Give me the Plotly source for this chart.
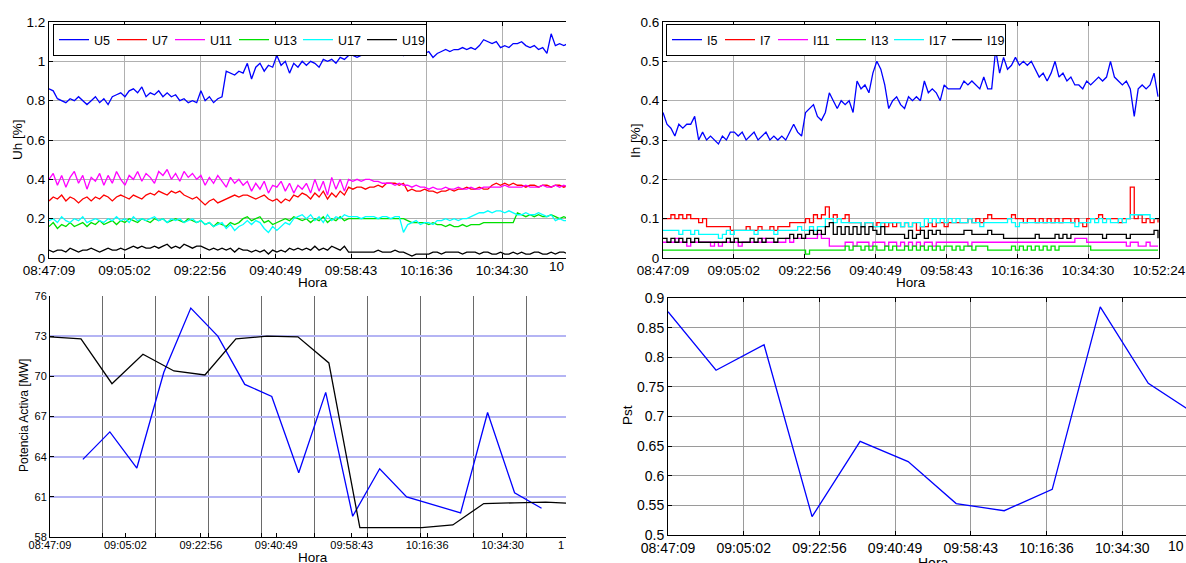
import plotly.graph_objects as go
import pandas as pd

W, H = 1186, 563
DAY = "2024-01-01 "
FONT = "Liberation Sans, Arial, Helvetica, sans-serif"

tick_labels = ["08:47:09", "09:05:02", "09:22:56", "09:40:49",
               "09:58:43", "10:16:36", "10:34:30", "10:52:24"]
t_start = "08:47:09"
t_end = "10:52:24"

# ---------------- Uh [%] (1-minute samples) ----------------
U5 = [0.86, 0.85, 0.81, 0.80, 0.79, 0.81, 0.80, 0.82, 0.80, 0.78,
      0.80, 0.82, 0.79, 0.81, 0.78, 0.82, 0.83, 0.84, 0.82, 0.85,
      0.86, 0.84, 0.87, 0.82, 0.84, 0.83, 0.85, 0.82, 0.84, 0.82,
      0.83, 0.80, 0.81, 0.79, 0.80, 0.79, 0.85, 0.80, 0.82, 0.79,
      0.81, 0.82, 0.95, 0.94, 0.93, 0.95, 0.94, 0.99, 0.91, 0.97,
      0.99, 0.95, 0.98, 0.97, 1.03, 0.98, 1.00, 0.94, 0.99, 0.97,
      1.00, 0.98, 1.00, 0.99, 0.97, 1.01, 1.00, 1.01, 0.99, 1.02,
      1.01, 1.03, 1.03, 1.02, 1.03, 1.04, 1.06, 1.08, 1.07, 1.07,
      1.06, 1.05, 1.04, 1.06, 1.03, 1.05, 1.07, 1.08, 1.05, 1.04,
      1.05, 1.02, 1.04, 1.05, 1.06, 1.05, 1.06, 1.06, 1.07, 1.06,
      1.07, 1.06, 1.08, 1.11, 1.10, 1.09, 1.10, 1.07, 1.08, 1.07,
      1.09, 1.09, 1.10, 1.08, 1.07, 1.08, 1.06, 1.07, 1.04, 1.14,
      1.08, 1.09, 1.08, 1.09]
U7 = [0.29, 0.31, 0.30, 0.32, 0.29, 0.31, 0.30, 0.28, 0.30, 0.31,
      0.29, 0.31, 0.30, 0.32, 0.31, 0.29, 0.31, 0.32, 0.31, 0.30,
      0.32, 0.31, 0.30, 0.32, 0.33, 0.32, 0.34, 0.33, 0.32, 0.34,
      0.33, 0.34, 0.32, 0.31, 0.30, 0.31, 0.29, 0.27, 0.29, 0.30,
      0.28, 0.29, 0.30, 0.31, 0.32, 0.31, 0.32, 0.32, 0.31, 0.30,
      0.31, 0.32, 0.30, 0.29, 0.30, 0.28, 0.30, 0.29, 0.32, 0.31,
      0.33, 0.32, 0.30, 0.33, 0.31, 0.34, 0.30, 0.33, 0.31, 0.34,
      0.32, 0.36, 0.35, 0.36, 0.36, 0.35, 0.36, 0.36, 0.37, 0.36,
      0.38, 0.38, 0.38, 0.37, 0.38, 0.34, 0.35, 0.34, 0.34, 0.35,
      0.34, 0.34, 0.33, 0.34, 0.34, 0.35, 0.34, 0.35, 0.35, 0.36,
      0.35, 0.35, 0.36, 0.35, 0.35, 0.37, 0.38, 0.37, 0.38, 0.37,
      0.38, 0.37, 0.37, 0.36, 0.37, 0.37, 0.36, 0.37, 0.37, 0.36,
      0.37, 0.37, 0.36, 0.37]
U11 = [0.40, 0.43, 0.37, 0.42, 0.36, 0.41, 0.44, 0.38, 0.42, 0.35,
       0.41, 0.39, 0.43, 0.37, 0.42, 0.38, 0.44, 0.40, 0.37, 0.42,
       0.40, 0.44, 0.39, 0.43, 0.41, 0.38, 0.44, 0.42, 0.45, 0.40,
       0.43, 0.39, 0.44, 0.41, 0.43, 0.40, 0.42, 0.37, 0.41, 0.38,
       0.42, 0.39, 0.36, 0.41, 0.38, 0.40, 0.37, 0.39, 0.34, 0.38,
       0.35, 0.39, 0.33, 0.37, 0.36, 0.39, 0.34, 0.38, 0.33, 0.37,
       0.35, 0.38, 0.33, 0.40, 0.34, 0.39, 0.32, 0.41, 0.35, 0.40,
       0.34, 0.40, 0.39, 0.40, 0.39, 0.40, 0.40, 0.39, 0.39, 0.38,
       0.38, 0.38, 0.37, 0.38, 0.37, 0.37, 0.36, 0.37, 0.36, 0.36,
       0.35, 0.36, 0.35, 0.35, 0.36, 0.35, 0.35, 0.36, 0.35, 0.35,
       0.36, 0.35, 0.35, 0.36, 0.36, 0.36, 0.36, 0.36, 0.37, 0.36,
       0.36, 0.36, 0.36, 0.37, 0.36, 0.36, 0.36, 0.37, 0.36, 0.36,
       0.37, 0.36, 0.37, 0.36]
U13 = [0.16, 0.18, 0.15, 0.17, 0.16, 0.18, 0.16, 0.17, 0.18, 0.16,
       0.18, 0.17, 0.19, 0.17, 0.18, 0.19, 0.17, 0.19, 0.18, 0.20,
       0.19, 0.18, 0.20, 0.19, 0.18, 0.20, 0.19, 0.20, 0.18, 0.19,
       0.20, 0.19, 0.18, 0.20, 0.19, 0.18, 0.19, 0.17, 0.18, 0.16,
       0.18, 0.17, 0.16, 0.18, 0.17, 0.18, 0.20, 0.21, 0.19, 0.20,
       0.21, 0.18, 0.19, 0.17, 0.18, 0.19, 0.20, 0.19, 0.21, 0.20,
       0.19, 0.20, 0.18, 0.20, 0.19, 0.21, 0.18, 0.20, 0.19, 0.21,
       0.19, 0.20, 0.20, 0.20, 0.20, 0.20, 0.20, 0.20, 0.20, 0.20,
       0.20, 0.20, 0.20, 0.20, 0.20, 0.19, 0.18, 0.18, 0.18, 0.18,
       0.17, 0.18, 0.17, 0.17, 0.16, 0.17, 0.16, 0.16, 0.17, 0.16,
       0.17, 0.17, 0.17, 0.18, 0.18, 0.18, 0.18, 0.18, 0.18, 0.18,
       0.18, 0.23, 0.22, 0.21, 0.22, 0.21, 0.22, 0.21, 0.21, 0.22,
       0.21, 0.20, 0.21, 0.20]
U17 = [0.19, 0.20, 0.18, 0.21, 0.19, 0.18, 0.20, 0.19, 0.21, 0.18,
       0.19, 0.20, 0.19, 0.18, 0.20, 0.19, 0.21, 0.19, 0.20, 0.18,
       0.21, 0.19, 0.20, 0.19, 0.20, 0.21, 0.19, 0.20, 0.18, 0.20,
       0.19, 0.20, 0.18, 0.19, 0.20, 0.18, 0.19, 0.17, 0.18, 0.16,
       0.17, 0.18, 0.15, 0.17, 0.14, 0.16, 0.17, 0.19, 0.17, 0.19,
       0.18, 0.15, 0.13, 0.16, 0.14, 0.16, 0.18, 0.17, 0.20, 0.21,
       0.22, 0.20, 0.22, 0.19, 0.21, 0.18, 0.22, 0.19, 0.21, 0.20,
       0.22, 0.21, 0.21, 0.21, 0.20, 0.21, 0.21, 0.21, 0.20, 0.21,
       0.21, 0.20, 0.21, 0.21, 0.13, 0.17, 0.18, 0.19, 0.17, 0.18,
       0.18, 0.17, 0.19, 0.19, 0.20, 0.19, 0.20, 0.19, 0.20, 0.20,
       0.21, 0.22, 0.23, 0.23, 0.24, 0.23, 0.24, 0.24, 0.23, 0.24,
       0.23, 0.22, 0.22, 0.23, 0.22, 0.22, 0.23, 0.22, 0.21, 0.22,
       0.19, 0.20, 0.19, 0.19]
U19 = [0.04, 0.03, 0.04, 0.04, 0.03, 0.05, 0.04, 0.03, 0.04, 0.04,
       0.05, 0.04, 0.03, 0.04, 0.05, 0.04, 0.04, 0.05, 0.04, 0.05,
       0.06, 0.05, 0.06, 0.05, 0.05, 0.06, 0.05, 0.06, 0.07, 0.05,
       0.06, 0.05, 0.07, 0.06, 0.05, 0.06, 0.06, 0.05, 0.04, 0.05,
       0.04, 0.05, 0.04, 0.05, 0.03, 0.05, 0.04, 0.04, 0.03, 0.04,
       0.03, 0.04, 0.02, 0.04, 0.03, 0.04, 0.03, 0.05, 0.04, 0.05,
       0.04, 0.05, 0.04, 0.06, 0.04, 0.05, 0.04, 0.06, 0.05, 0.04,
       0.06, 0.03, 0.03, 0.03, 0.03, 0.03, 0.03, 0.03, 0.04, 0.03,
       0.03, 0.03, 0.04, 0.03, 0.03, 0.02, 0.01, 0.02, 0.02, 0.02,
       0.02, 0.03, 0.03, 0.02, 0.03, 0.03, 0.03, 0.03, 0.02, 0.03,
       0.03, 0.03, 0.02, 0.03, 0.03, 0.02, 0.02, 0.03, 0.02, 0.02,
       0.03, 0.02, 0.03, 0.02, 0.02, 0.03, 0.03, 0.02, 0.02, 0.03,
       0.02, 0.03, 0.03, 0.02]

# ---------------- Ih [%] (1-minute samples) ----------------
I5 = [0.37, 0.34, 0.33, 0.31, 0.34, 0.33, 0.34, 0.34, 0.36, 0.30,
      0.32, 0.30, 0.31, 0.30, 0.29, 0.31, 0.30, 0.32, 0.32, 0.31,
      0.32, 0.30, 0.31, 0.32, 0.30, 0.31, 0.32, 0.30, 0.31, 0.30,
      0.31, 0.30, 0.32, 0.34, 0.32, 0.31, 0.37, 0.38, 0.39, 0.36,
      0.35, 0.37, 0.42, 0.40, 0.38, 0.40, 0.39, 0.40, 0.37, 0.45,
      0.43, 0.44, 0.42, 0.47, 0.50, 0.48, 0.44, 0.38, 0.40, 0.41,
      0.39, 0.38, 0.41, 0.40, 0.41, 0.40, 0.45, 0.42, 0.43, 0.42,
      0.40, 0.44, 0.43, 0.43, 0.43, 0.43, 0.45, 0.44, 0.45, 0.44,
      0.43, 0.46, 0.43, 0.43, 0.53, 0.47, 0.51, 0.48, 0.49, 0.51,
      0.49, 0.50, 0.49, 0.50, 0.48, 0.46, 0.47, 0.45, 0.47, 0.50,
      0.46, 0.47, 0.45, 0.46, 0.44, 0.44, 0.43, 0.45, 0.44, 0.45,
      0.46, 0.45, 0.46, 0.50, 0.46, 0.45, 0.44, 0.45, 0.43, 0.36,
      0.43, 0.44, 0.43, 0.44, 0.47, 0.41]
I7 = [0.10, 0.10, 0.11, 0.10, 0.11, 0.10, 0.11, 0.10, 0.10, 0.09,
      0.10, 0.08, 0.08, 0.08, 0.08, 0.08, 0.08, 0.07, 0.07, 0.07,
      0.07, 0.08, 0.07, 0.07, 0.08, 0.07, 0.07, 0.08, 0.07, 0.08,
      0.08, 0.08, 0.09, 0.09, 0.09, 0.09, 0.10, 0.09, 0.11, 0.10,
      0.11, 0.13, 0.10, 0.11, 0.10, 0.10, 0.11, 0.09, 0.09, 0.09,
      0.08, 0.09, 0.09, 0.08, 0.09, 0.09, 0.08, 0.09, 0.08, 0.09,
      0.08, 0.09, 0.08, 0.09, 0.07, 0.08, 0.08, 0.09, 0.08, 0.09,
      0.09, 0.08, 0.09, 0.09, 0.09, 0.09, 0.09, 0.10, 0.09, 0.10,
      0.09, 0.10, 0.11, 0.10, 0.10, 0.10, 0.10, 0.10, 0.11, 0.10,
      0.10, 0.09, 0.10, 0.10, 0.09, 0.10, 0.09, 0.10, 0.09, 0.10,
      0.09, 0.10, 0.10, 0.09, 0.10, 0.09, 0.08, 0.10, 0.10, 0.10,
      0.11, 0.10, 0.10, 0.10, 0.10, 0.09, 0.10, 0.10, 0.18, 0.10,
      0.11, 0.09, 0.10, 0.09, 0.10, 0.09]
I11 = [0.04, 0.04, 0.04, 0.05, 0.04, 0.04, 0.03, 0.04, 0.04, 0.04,
       0.04, 0.04, 0.03, 0.04, 0.03, 0.04, 0.04, 0.04, 0.04, 0.03,
       0.04, 0.04, 0.04, 0.04, 0.04, 0.05, 0.04, 0.04, 0.04, 0.04,
       0.04, 0.05, 0.04, 0.05, 0.05, 0.05, 0.05, 0.05, 0.05, 0.06,
       0.05, 0.05, 0.03, 0.03, 0.03, 0.03, 0.04, 0.04, 0.03, 0.04,
       0.04, 0.04, 0.03, 0.04, 0.04, 0.04, 0.03, 0.04, 0.04, 0.03,
       0.04, 0.03, 0.04, 0.03, 0.04, 0.03, 0.04, 0.04, 0.03, 0.04,
       0.04, 0.04, 0.04, 0.04, 0.04, 0.04, 0.04, 0.03, 0.04, 0.04,
       0.04, 0.04, 0.04, 0.04, 0.04, 0.04, 0.04, 0.04, 0.04, 0.04,
       0.04, 0.04, 0.04, 0.04, 0.04, 0.04, 0.04, 0.04, 0.04, 0.04,
       0.04, 0.04, 0.04, 0.04, 0.05, 0.05, 0.05, 0.04, 0.04, 0.04,
       0.04, 0.04, 0.04, 0.04, 0.04, 0.04, 0.04, 0.03, 0.04, 0.04,
       0.03, 0.03, 0.04, 0.03, 0.03, 0.03]
I13 = [0.02, 0.02, 0.02, 0.02, 0.02, 0.02, 0.02, 0.02, 0.02, 0.02,
       0.02, 0.02, 0.02, 0.02, 0.02, 0.02, 0.02, 0.02, 0.02, 0.02,
       0.02, 0.02, 0.02, 0.02, 0.02, 0.02, 0.02, 0.02, 0.02, 0.02,
       0.02, 0.02, 0.02, 0.02, 0.02, 0.02, 0.01, 0.02, 0.02, 0.02,
       0.02, 0.02, 0.02, 0.02, 0.02, 0.02, 0.03, 0.02, 0.03, 0.03,
       0.02, 0.03, 0.02, 0.03, 0.02, 0.02, 0.03, 0.02, 0.03, 0.02,
       0.02, 0.03, 0.02, 0.03, 0.02, 0.03, 0.02, 0.03, 0.02, 0.03,
       0.02, 0.03, 0.03, 0.02, 0.03, 0.02, 0.03, 0.03, 0.02, 0.03,
       0.03, 0.03, 0.02, 0.02, 0.02, 0.02, 0.02, 0.02, 0.03, 0.02,
       0.03, 0.02, 0.03, 0.02, 0.03, 0.02, 0.03, 0.02, 0.03, 0.02,
       0.03, 0.03, 0.03, 0.03, 0.03, 0.03, 0.03, 0.03, 0.02, 0.02,
       0.02, 0.02, 0.02, 0.02, 0.02, 0.02, 0.02, 0.02, 0.02, 0.02,
       0.02, 0.02, 0.02, 0.02, 0.02, 0.02]
I17 = [0.07, 0.07, 0.07, 0.07, 0.06, 0.07, 0.07, 0.06, 0.07, 0.06,
       0.06, 0.06, 0.06, 0.06, 0.05, 0.06, 0.07, 0.06, 0.07, 0.07,
       0.07, 0.07, 0.07, 0.06, 0.07, 0.07, 0.07, 0.07, 0.06, 0.07,
       0.07, 0.07, 0.07, 0.07, 0.08, 0.07, 0.07, 0.08, 0.07, 0.08,
       0.08, 0.10, 0.10, 0.09, 0.10, 0.09, 0.09, 0.09, 0.09, 0.09,
       0.08, 0.09, 0.09, 0.08, 0.08, 0.09, 0.09, 0.09, 0.09, 0.09,
       0.08, 0.09, 0.08, 0.09, 0.09, 0.08, 0.10, 0.09, 0.10, 0.09,
       0.10, 0.09, 0.10, 0.09, 0.10, 0.09, 0.09, 0.10, 0.09, 0.09,
       0.08, 0.09, 0.09, 0.09, 0.09, 0.09, 0.09, 0.10, 0.09, 0.08,
       0.09, 0.09, 0.09, 0.09, 0.09, 0.09, 0.09, 0.09, 0.09, 0.09,
       0.09, 0.09, 0.09, 0.09, 0.08, 0.09, 0.09, 0.09, 0.10, 0.09,
       0.10, 0.09, 0.10, 0.09, 0.09, 0.10, 0.09, 0.10, 0.11, 0.11,
       0.11, 0.11, 0.11, 0.10, 0.10, 0.10]
I19 = [0.05, 0.04, 0.05, 0.04, 0.05, 0.04, 0.05, 0.04, 0.05, 0.04,
       0.04, 0.04, 0.04, 0.04, 0.04, 0.04, 0.05, 0.04, 0.05, 0.04,
       0.04, 0.04, 0.05, 0.04, 0.05, 0.04, 0.05, 0.05, 0.04, 0.05,
       0.05, 0.05, 0.06, 0.05, 0.06, 0.05, 0.06, 0.07, 0.06, 0.07,
       0.06, 0.08, 0.09, 0.06, 0.08, 0.06, 0.08, 0.06, 0.08, 0.06,
       0.08, 0.06, 0.08, 0.07, 0.06, 0.08, 0.06, 0.06, 0.06, 0.06,
       0.06, 0.05, 0.07, 0.05, 0.06, 0.07, 0.05, 0.07, 0.06, 0.07,
       0.06, 0.06, 0.06, 0.06, 0.06, 0.06, 0.07, 0.07, 0.06, 0.06,
       0.06, 0.06, 0.07, 0.06, 0.06, 0.06, 0.05, 0.05, 0.05, 0.05,
       0.05, 0.05, 0.05, 0.05, 0.06, 0.05, 0.05, 0.05, 0.05, 0.06,
       0.05, 0.06, 0.05, 0.06, 0.06, 0.06, 0.06, 0.06, 0.06, 0.06,
       0.06, 0.05, 0.06, 0.06, 0.06, 0.06, 0.06, 0.05, 0.06, 0.06,
       0.06, 0.06, 0.06, 0.06, 0.07, 0.05]

# ---------------- Potencia Activa [MW] ----------------
P_blue_t = ["08:54:57", "09:01:21", "09:07:45", "09:14:09", "09:20:33", "09:26:57",
            "09:33:21", "09:39:45", "09:46:09", "09:52:33", "09:58:57", "10:05:21",
            "10:11:45", "10:24:33", "10:30:57", "10:37:21", "10:43:45"]
P_blue = [63.8, 65.85, 63.15, 70.3, 75.1, 73.0, 69.4, 68.5, 62.8, 68.8, 59.55,
          63.1, 61.0, 59.8, 67.3, 61.3, 60.15]
P_black_t = ["08:47:09", "08:54:30", "09:01:51", "09:09:12", "09:16:33", "09:23:54",
             "09:31:15", "09:38:36", "09:45:57", "09:53:18", "10:00:39", "10:08:00",
             "10:15:21", "10:22:42", "10:30:03", "10:37:24", "10:44:45", "10:52:06"]
P_black = [72.95, 72.8, 69.45, 71.65, 70.4, 70.1, 72.8, 73.0, 72.95, 71.0,
           58.7, 58.7, 58.7, 58.9, 60.5, 60.55, 60.6, 60.5]
P_grid_t = ["08:59:43", "09:12:16", "09:24:50", "09:37:23", "09:49:57",
            "10:02:31", "10:15:04", "10:27:38", "10:40:11"]

# ---------------- Pst ----------------
Pst_t = ["08:47:09", "08:58:30", "09:09:51", "09:21:12", "09:32:33", "09:43:54",
         "09:55:15", "10:06:36", "10:17:57", "10:29:18", "10:40:39", "10:52:00"]
Pst = [0.877, 0.778, 0.821, 0.531, 0.658, 0.624, 0.553, 0.541, 0.577, 0.885, 0.756, 0.703]


def d(t):
    return DAY + t


def dl(ts):
    return [DAY + t for t in ts]


u_times = pd.date_range(d(t_start), periods=len(U5), freq="60s")
i_times = pd.date_range(d(t_start), periods=len(I5), freq="60s")

COL = {"blue": "#0000ff", "red": "#ff0000", "mag": "#ff00ff",
       "green": "#00e000", "cyan": "#00ffff", "black": "#000000"}
LW = 1.3

fig = go.Figure()
u_series = [("U5", U5, COL["blue"], 13), ("U7", U7, COL["red"], 13),
            ("U11", U11, COL["mag"], 19), ("U13", U13, COL["green"], 19),
            ("U17", U17, COL["cyan"], 19), ("U19", U19, COL["black"], 19)]
for name, vals, c, lw in u_series:
    fig.add_trace(go.Scatter(x=u_times, y=vals, name=name, mode="lines",
                             line=dict(color=c, width=LW), xaxis="x", yaxis="y",
                             legend="legend", legendwidth=lw))

i_series = [("I5", I5, COL["blue"], "linear", 8), ("I7", I7, COL["red"], "hv", 8),
            ("I11", I11, COL["mag"], "hv", 13), ("I13", I13, COL["green"], "hv", 13),
            ("I17", I17, COL["cyan"], "hv", 13), ("I19", I19, COL["black"], "hv", 13)]
for name, vals, c, shp, lw in i_series:
    fig.add_trace(go.Scatter(x=i_times, y=vals, name=name, mode="lines",
                             line=dict(color=c, width=LW, shape=shp), xaxis="x2", yaxis="y2",
                             legend="legend2", legendwidth=lw))

fig.add_trace(go.Scatter(x=dl(P_blue_t), y=P_blue, mode="lines", showlegend=False,
                         line=dict(color=COL["blue"], width=LW), xaxis="x3", yaxis="y3"))
fig.add_trace(go.Scatter(x=dl(P_black_t), y=P_black, mode="lines", showlegend=False,
                         line=dict(color=COL["black"], width=LW), xaxis="x5", yaxis="y3"))
fig.add_trace(go.Scatter(x=dl(Pst_t), y=Pst, mode="lines", showlegend=False,
                         line=dict(color=COL["blue"], width=LW), xaxis="x4", yaxis="y4"))


def px_x(x):
    return x / W


def px_y(y):
    return 1 - y / H


GRID = "#b0b0b0"
common_x = dict(tickvals=dl(tick_labels), ticktext=tick_labels, ticks="inside", ticklen=4,
                tickcolor="black", showline=True, linecolor="black", linewidth=1,
                zeroline=False, automargin=False, tickfont=dict(size=13.5, color="black"))
common_y = dict(ticks="inside", ticklen=4, tickcolor="black", showline=True,
                linecolor="black", linewidth=1, zeroline=False, automargin=False,
                tickfont=dict(size=13.5, color="black"))

layout = dict(
    width=W, height=H, autosize=False,
    margin=dict(l=0, r=0, t=0, b=0, pad=0),
    paper_bgcolor="white", plot_bgcolor="white",
    font=dict(family=FONT, color="black"),
    xaxis=dict(common_x, domain=[px_x(49), px_x(566)], anchor="y",
               range=[d(t_start), d("10:49:40")], showgrid=True, gridcolor=GRID,
               gridwidth=1.2, mirror="ticks"),
    yaxis=dict(common_y, domain=[px_y(258), px_y(22)], anchor="x", range=[0, 1.2],
               tick0=0, dtick=0.2, showgrid=True, gridcolor=GRID, gridwidth=1.2, mirror=False),
    xaxis2=dict(common_x, domain=[px_x(663), px_x(1159)], anchor="y2",
                range=[d(t_start), d(t_end)], showgrid=True, gridcolor=GRID,
                gridwidth=1.2, mirror="ticks"),
    yaxis2=dict(common_y, domain=[px_y(258), px_y(22)], anchor="x2", range=[0, 0.6],
                tick0=0, dtick=0.1, showgrid=True, gridcolor=GRID, gridwidth=1.2,
                mirror="ticks"),
    xaxis3=dict(domain=[px_x(50), px_x(566)], anchor="y3",
                range=[d(t_start), d("10:49:33")], tickvals=dl(P_grid_t),
                showticklabels=False, ticks="inside", ticklen=4, tickcolor="black",
                showgrid=True, gridcolor="#6a6a6a", gridwidth=1, showline=True,
                linecolor="black", zeroline=False, automargin=False),
    xaxis5=dict(common_x, overlaying="x3", anchor="y3", side="bottom",
                range=[d(t_start), d("10:49:33")], showgrid=False, showline=False,
                tickfont=dict(size=11, color="black")),
    yaxis3=dict(common_y, domain=[px_y(537), px_y(296)], anchor="x3", range=[58, 76],
                tick0=58, dtick=3, showgrid=True, gridcolor="#b4b4f4", gridwidth=1.5,
                tickfont=dict(size=11, color="black")),
    xaxis4=dict(common_x, domain=[px_x(668), px_x(1186)], anchor="y4",
                range=[d(t_start), d("10:49:34")], showgrid=True, gridcolor="#9a9a9a",
                gridwidth=1.2, mirror="ticks", tickfont=dict(size=14, color="black")),
    yaxis4=dict(common_y, domain=[px_y(535), px_y(298)], anchor="x4", range=[0.5, 0.9],
                tick0=0.5, dtick=0.05, showgrid=True, gridcolor="#9a9a9a", gridwidth=1.2,
                tickfont=dict(size=14, color="black")),
    legend=dict(x=px_x(53), y=px_y(24), xanchor="left", yanchor="top", orientation="h",
                bgcolor="white", bordercolor="black", borderwidth=1,
                font=dict(size=12.5, color="black"), itemwidth=30, tracegroupgap=0),
    legend2=dict(x=px_x(666), y=px_y(24), xanchor="left", yanchor="top", orientation="h",
                 bgcolor="white", bordercolor="black", borderwidth=1,
                 font=dict(size=12.5, color="black"), itemwidth=30, tracegroupgap=0),
)
fig.update_layout(**layout)


def ann(text, x, y, size=13.5, angle=0, xanchor="center", yanchor="middle"):
    return dict(text=text, x=px_x(x), y=px_y(y), xref="paper", yref="paper",
                showarrow=False, textangle=angle, xanchor=xanchor, yanchor=yanchor,
                font=dict(size=size, color="black", family=FONT))


fig.update_layout(annotations=[
    ann("Uh [%]", 17, 140, angle=-90),
    ann("Hora", 313, 282),
    ann("Ih [%]", 635, 141, angle=-90),
    ann("Hora", 911, 282),
    ann("Potencia Activa [MW]", 24, 416, size=12, angle=-90),
    ann("Hora", 313, 557),
    ann("Pst", 627, 415, angle=-90),
    ann("Hora", 933, 563, size=14),
    ann("10", 566, 266, xanchor="right"),
    ann("1", 566, 545, size=11, xanchor="right"),
    ann("10", 1186, 546, size=14, xanchor="right"),
])

fig.write_html("out.html", config={"displayModeBar": False},
               post_script="document.body.style.margin='0px';"
                           "document.body.style.overflow='hidden';")
